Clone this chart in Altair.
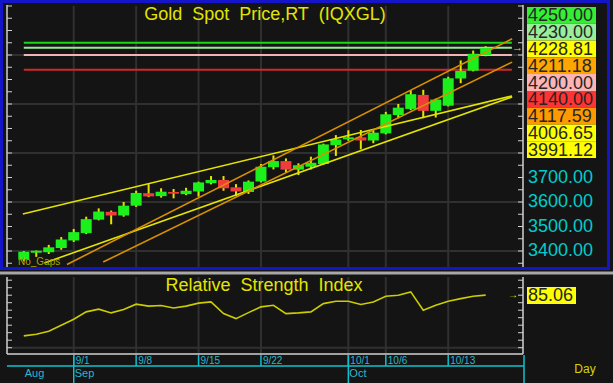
import altair as alt
import pandas as pd
import numpy as np

# ---------------- data ----------------
dates = ["8/26", "8/27", "8/28", "8/29",
         "9/1", "9/2", "9/3", "9/4", "9/5",
         "9/8", "9/9", "9/10", "9/11", "9/12",
         "9/15", "9/16", "9/17", "9/18", "9/19",
         "9/22", "9/23", "9/24", "9/25", "9/26",
         "9/29", "9/30", "10/1", "10/2", "10/3",
         "10/6", "10/7", "10/8", "10/9", "10/10",
         "10/13", "10/14", "10/15", "10/16"]
opens = [3365, 3393, 3395, 3412, 3443, 3473, 3528, 3560, 3545,
         3585, 3636, 3624, 3641, 3632,
         3643, 3677, 3690, 3660, 3641,
         3684, 3742, 3767, 3732, 3744,
         3755, 3832, 3856, 3864, 3851,
         3880, 3955, 3980, 4037, 3972,
         3993, 4104, 4136, 4200]
highs = [3400, 3402, 3425, 3457, 3490, 3540, 3574, 3565, 3600,
         3646, 3673, 3656, 3653, 3658,
         3683, 3706, 3706, 3673, 3688,
         3755, 3790, 3778, 3758, 3785,
         3838, 3873, 3893, 3894, 3894,
         3968, 4000, 4057, 4058, 4022,
         4111, 4178, 4218, 4236]
lows = [3358, 3376, 3388, 3405, 3437, 3469, 3525, 3509, 3540,
        3580, 3620, 3618, 3615, 3628,
        3622, 3672, 3646, 3624, 3633,
        3680, 3733, 3720, 3710, 3733,
        3752, 3788, 3850, 3815, 3840,
        3876, 3942, 3975, 3942, 3945,
        3990, 4085, 4133, 4195]
closes = [3397, 3401, 3415, 3447, 3477, 3530, 3561, 3545, 3585,
          3637, 3623, 3642, 3634, 3646,
          3680, 3690, 3656, 3643, 3683,
          3744, 3767, 3732, 3750, 3760,
          3835, 3855, 3864, 3851, 3883,
          3958, 3985, 4040, 3972, 4018,
          4105, 4135, 4205, 4228.81]
rsi = [57.9, 59.0, 61.0, 65.0, 69.0, 73.9, 75.7, 73.2, 75.4,
       79.0, 77.7, 78.1, 76.5, 77.7,
       79.7, 80.5, 72.8, 69.4, 73.4,
       77.2, 78.3, 72.7, 73.2, 73.9,
       79.4, 81.0, 81.0, 78.8, 80.5,
       84.3, 85.0, 87.2, 75.0, 78.3,
       81.0, 82.7, 84.3, 85.06]

day_ticks = ["9/1", "9/8", "9/15", "9/22", "10/1", "10/6", "10/13"]
month_labels = ["Aug", "Sep", "Oct"]
month_first_day = ["8/26", "9/1", "10/1"]

grid_prices = [3400, 3600, 3800, 4000, 4200]
axis_prices = [3400, 3500, 3600, 3700, 3800]

level_names = ["4250.00", "4230.00", "4200.00", "4140.00"]
level_values = [4250, 4230, 4200, 4140]
level_from = [0, 0, 0, 0]
level_to = [39.1, 39.1, 39.1, 39.1]
level_colors = ["#18d818", "#98e898", "#f0b4b4", "#d02828"]

trend_names = ["upper yellow", "lower yellow", "upper orange", "lower orange"]
trend_i0 = [-0.08, 1.65, 3.46, 6.36]
trend_p0 = [3551, 3351, 3345, 3355]
trend_i1 = [39.12, 39.12, 39.12, 39.12]
trend_p1 = [4033, 4029, 4266, 4171]
trend_colors = ["#e4e400", "#e4e400", "#d89000", "#d89000"]

box_labels = ["4250.00", "4230.00", "4228.81", "4211.18", "4200.00",
              "4140.00", "4117.59", "4006.65", "3991.12"]
box_colors = ["#33ee33", "#99ee99", "#ffff00", "#ffa500", "#ffb4b4",
              "#ff3333", "#ff9900", "#ffff00", "#ffff00"]

rsi_last_label = "85.06"

# ---------------- styling ----------------
FONT = "Liberation Sans"
BG = "#141414"
GRID = "#303030"
TICK = "#d0d0d0"
TEAL = "#10c0cc"
TEALTXT = "#2ab8cc"
YEL = "#e4e400"

X = alt.Scale(domain=[-0.864, 39.59], range=[8, 523])
PY = alt.Scale(domain=[3338.8, 4400], range=[266, 6])
RY = alt.Scale(domain=[45.8, 97.13], range=[354, 277])
SLOT = alt.Scale(domain=[0, 9], range=[7, 158])

one = pd.DataFrame({"k": [0]})


def hline(y, x1, x2, color, w=1):
    return alt.Chart(one).mark_rule(color=color, strokeWidth=w).encode(
        x=alt.value(x1), x2=alt.value(x2), y=alt.value(y))


def vline(x, y1, y2, color, w=1):
    return alt.Chart(one).mark_rule(color=color, strokeWidth=w).encode(
        x=alt.value(x), y=alt.value(y1), y2=alt.value(y2))


def label(text, x, y, color, size, align="center", baseline="middle"):
    return alt.Chart(one).mark_text(text=text, color=color, fontSize=size, font=FONT,
                                    align=align, baseline=baseline).encode(
        x=alt.value(x), y=alt.value(y))


idx = list(range(len(dates)))
cdf = pd.DataFrame({"i": idx, "date": dates, "o": opens, "h": highs,
                    "l": lows, "c": closes, "rsi": rsi})
cdf["lo"] = cdf[["o", "c"]].min(axis=1)
cdf["hi"] = cdf[["o", "c"]].max(axis=1)
cdf["dir"] = np.where(cdf["c"] >= cdf["o"], "up", "down")

tdf = pd.DataFrame({"i": [dates.index(d) for d in day_ticks], "label": day_ticks})
mdf = pd.DataFrame({"i": [dates.index(d) for d in month_first_day], "label": month_labels})
mline = mdf[mdf["label"] != "Aug"]

gdf = pd.DataFrame({"p": grid_prices})
adf = pd.DataFrame({"p": axis_prices, "t": [f"{v:.2f}" for v in axis_prices]})
ptick = pd.DataFrame({"p": list(range(3350, 4401, 50))})
rtick = pd.DataFrame({"v": list(range(50, 96, 5))})

ldf = pd.DataFrame({"name": level_names, "p": level_values,
                    "i0": level_from, "i1": level_to})
trows = []
for n, a0, b0, a1, b1 in zip(trend_names, trend_i0, trend_p0, trend_i1, trend_p1):
    trows.append({"name": n, "i": a0, "p": b0})
    trows.append({"name": n, "i": a1, "p": b1})
trdf = pd.DataFrame(trows)

bdf = pd.DataFrame({"label": box_labels, "s0": list(range(len(box_labels)))})
bdf["s1"] = bdf["s0"] + 1
bdf["sm"] = bdf["s0"] + 0.5

xi = alt.X("i:Q", scale=X, axis=None)

layers = []

# grids top panel
layers.append(alt.Chart(gdf).mark_rule(color=GRID, strokeWidth=2).encode(
    x=alt.value(8), x2=alt.value(523), y=alt.Y("p:Q", scale=PY, axis=None)))
layers.append(alt.Chart(tdf).mark_rule(color=GRID, strokeWidth=2).encode(
    x=xi, y=alt.value(6), y2=alt.value(267)))
# grids RSI panel
layers.append(alt.Chart(tdf).mark_rule(color=GRID, strokeWidth=2).encode(
    x=xi, y=alt.value(277), y2=alt.value(354)))
layers.append(alt.Chart(pd.DataFrame({"v": [50]})).mark_rule(color=GRID, strokeWidth=2).encode(
    x=alt.value(8), x2=alt.value(523), y=alt.Y("v:Q", scale=RY, axis=None)))

# horizontal levels
layers.append(alt.Chart(ldf).mark_rule(strokeWidth=2).encode(
    x=alt.X("i0:Q", scale=X, axis=None), x2="i1:Q",
    y=alt.Y("p:Q", scale=PY, axis=None),
    color=alt.Color("name:N", scale=alt.Scale(domain=level_names, range=level_colors), legend=None)))

# candles
layers.append(alt.Chart(cdf).mark_rule(color=YEL, strokeWidth=2).encode(
    x=xi, y=alt.Y("l:Q", scale=PY, axis=None), y2="h:Q"))
layers.append(alt.Chart(cdf).mark_bar(size=11).encode(
    x=xi, y=alt.Y("lo:Q", scale=PY, axis=None), y2="hi:Q",
    color=alt.Color("dir:N", scale=alt.Scale(domain=["up", "down"], range=["#1cf01c", "#f03c3c"]),
                    legend=None)))

# trend lines
layers.append(alt.Chart(trdf).mark_line(strokeWidth=1.6, clip=False).encode(
    x=xi, y=alt.Y("p:Q", scale=PY, axis=None), detail="name:N",
    color=alt.Color("name:N", scale=alt.Scale(domain=trend_names, range=trend_colors), legend=None)))

# last price arrow
layers.append(alt.Chart(cdf.tail(1)).mark_text(text="→", color=YEL, fontSize=11, font=FONT,
                                               align="left", baseline="middle", dx=4).encode(
    x=alt.value(508), y=alt.Y("c:Q", scale=PY, axis=None)))

# frames and ticks, top panel
layers.append(vline(7, 5, 268, TICK, 1.5))
layers.append(vline(523, 5, 268, TICK, 1.5))
layers.append(alt.Chart(ptick).mark_rule(color=TICK, strokeWidth=1).encode(
    x=alt.value(7), x2=alt.value(12), y=alt.Y("p:Q", scale=PY, axis=None)))
layers.append(alt.Chart(ptick).mark_rule(color=TICK, strokeWidth=1).encode(
    x=alt.value(518), x2=alt.value(523), y=alt.Y("p:Q", scale=PY, axis=None)))

# separator between panels
layers.append(hline(273, 0, 613, "#a8a8a8", 3))

# RSI panel frame and ticks
layers.append(vline(7, 277, 354, TICK, 1.5))
layers.append(vline(523, 277, 354, TICK, 1.5))
layers.append(hline(354, 7, 523, TICK, 1.5))
layers.append(alt.Chart(rtick).mark_rule(color=TICK, strokeWidth=1).encode(
    x=alt.value(7), x2=alt.value(12), y=alt.Y("v:Q", scale=RY, axis=None)))
layers.append(alt.Chart(rtick).mark_rule(color=TICK, strokeWidth=1).encode(
    x=alt.value(518), x2=alt.value(523), y=alt.Y("v:Q", scale=RY, axis=None)))

# RSI line
layers.append(alt.Chart(cdf).mark_line(color="#cccc00", strokeWidth=1.6).encode(
    x=xi, y=alt.Y("rsi:Q", scale=RY, axis=None)))

# titles
layers.append(label("Gold\u00a0 Spot\u00a0 Price,RT\u00a0 (IQXGL)", 265, 15, YEL, 18))
layers.append(label("Relative\u00a0 Strength\u00a0 Index", 264, 286, YEL, 18))
layers.append(label("No_Gaps", 18, 262, "#a8a800", 10, align="left"))

# right price axis labels (3800 sits mostly under the value boxes, as in the original)
layers.append(alt.Chart(adf).mark_text(color="#00cccc", fontSize=18, font=FONT,
                                       align="left", baseline="middle").encode(
    x=alt.value(528), y=alt.Y("p:Q", scale=PY, axis=None), text="t:N"))

# stacked value boxes
layers.append(alt.Chart(bdf).mark_rect().encode(
    x=alt.value(527), x2=alt.value(596),
    y=alt.Y("s0:Q", scale=SLOT, axis=None), y2="s1:Q",
    color=alt.Color("label:N", scale=alt.Scale(domain=box_labels, range=box_colors), legend=None)))
layers.append(alt.Chart(bdf).mark_text(color="#262626", fontSize=18, font=FONT,
                                       align="left", baseline="middle", dy=1).encode(
    x=alt.value(528), y=alt.Y("sm:Q", scale=SLOT, axis=None), text="label:N"))

# RSI last value
layers.append(alt.Chart(one).mark_rect(color="#ffff00").encode(
    x=alt.value(527), x2=alt.value(576), y=alt.value(287), y2=alt.value(304)))
layers.append(alt.Chart(cdf.tail(1)).mark_text(text=rsi_last_label, color="#262626", fontSize=18,
                                               font=FONT, align="left", baseline="middle", dy=1).encode(
    x=alt.value(528), y=alt.Y("rsi:Q", scale=RY, axis=None)))
layers.append(alt.Chart(cdf.tail(1)).mark_text(text="→", color=YEL, fontSize=10, font=FONT,
                                               align="center", baseline="middle").encode(
    x=alt.value(513), y=alt.Y("rsi:Q", scale=RY, axis=None)))

# date axis
layers.append(hline(366, 7, 524, TEAL, 1.5))
layers.append(vline(524, 355, 383, TEAL, 1.5))
layers.append(alt.Chart(tdf).mark_rule(color=TEAL, strokeWidth=1.5).encode(
    x=xi, y=alt.value(355), y2=alt.value(366)))
layers.append(alt.Chart(mline).mark_rule(color=TEAL, strokeWidth=1.5).encode(
    x=xi, y=alt.value(355), y2=alt.value(383)))
layers.append(alt.Chart(tdf).mark_text(color=TEALTXT, fontSize=10, font=FONT,
                                       align="left", baseline="middle", dx=2).encode(
    x=xi, y=alt.value(361), text="label:N"))
layers.append(alt.Chart(mdf).mark_text(color=TEALTXT, fontSize=11, font=FONT,
                                       align="left", baseline="middle", dx=1).encode(
    x=xi, y=alt.value(374), text="label:N"))
layers.append(label("Day", 585, 369, "#d4d400", 12))

# blue frame of the price panel
layers.append(alt.Chart(one).mark_rect(fill=None, stroke="#1414c8", strokeWidth=3, fillOpacity=0).encode(
    x=alt.value(1.5), x2=alt.value(608.5), y=alt.value(1.5), y2=alt.value(268.5)))

chart = alt.layer(*layers).resolve_scale(
    y="independent", color="independent"
).properties(
    width=613, height=383, padding=0,
    autosize=alt.AutoSizeParams(type="none"),
).configure(background=BG).configure_view(strokeWidth=0)

chart.save("out.html", embed_options={"renderer": "svg", "actions": False})
